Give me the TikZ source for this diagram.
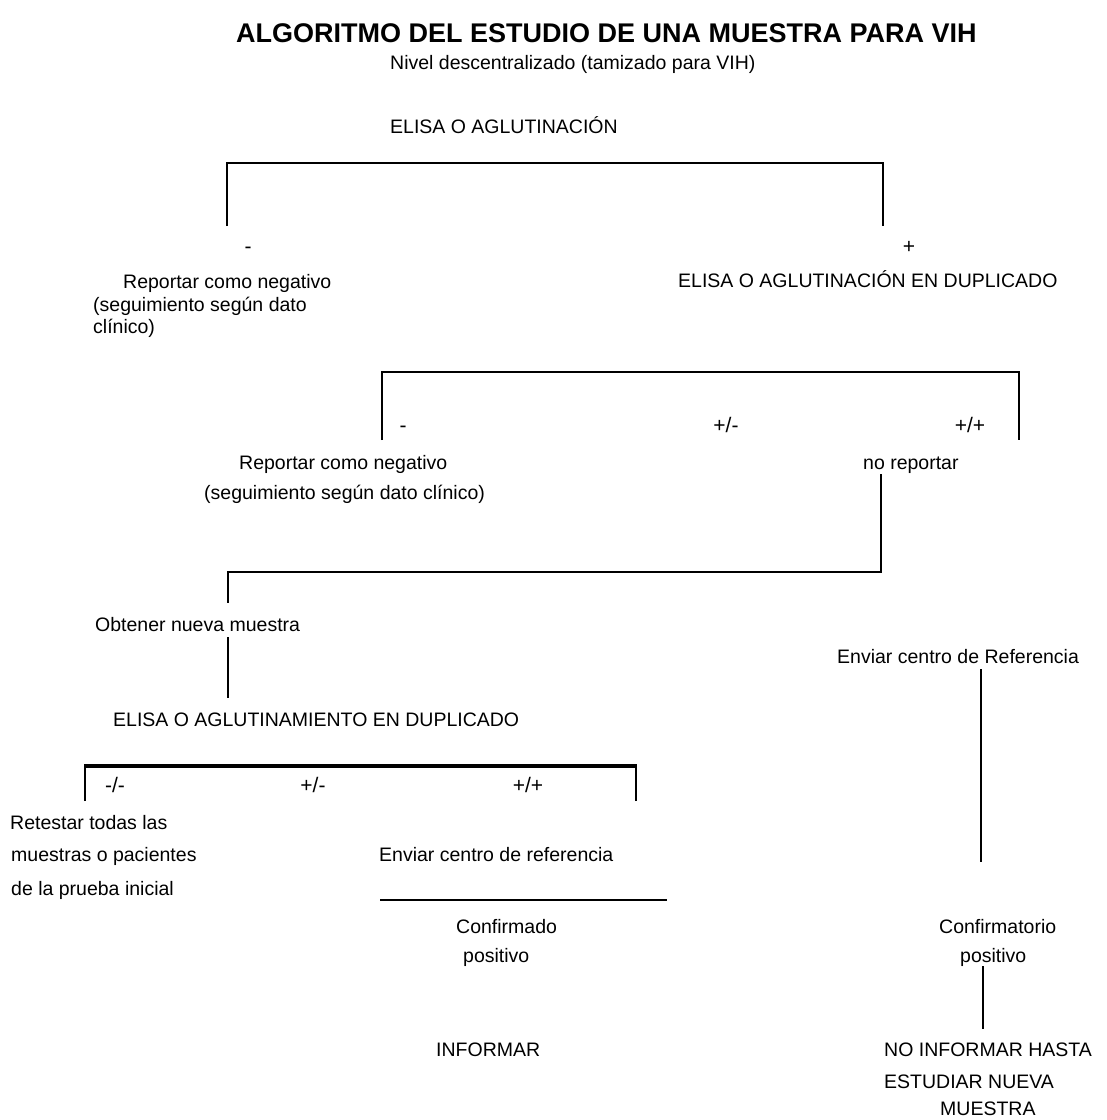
\documentclass[tikz,border=0pt]{standalone}
\usepackage{fontspec}
\setmainfont{Liberation Sans}
\begin{document}
\begin{tikzpicture}[x=1pt,y=-1pt,
  txt/.style={anchor=base west, inner sep=0pt, text=black, font=\fontsize{19.5}{23}\selectfont},
  sign/.style={anchor=base, inner sep=0pt, text=black, font=\fontsize{21}{25}\selectfont},
  ttl/.style={anchor=base west, inner sep=0pt, text=black, font=\fontsize{27}{32}\selectfont\bfseries},
  ln/.style={draw=black, line width=1.8pt},
  thickln/.style={draw=black, line width=3.6pt}]
\useasboundingbox (0,0) rectangle (1107,1120);
\fill[white] (0,0) rectangle (1107,1120);

% texts
\node[ttl] (title) at (236,42) {ALGORITMO DEL ESTUDIO DE UNA MUESTRA PARA VIH};
\node[txt] (sub) at (390,69) {Nivel descentralizado (tamizado para VIH)};
\node[txt] (elisa1) at (390,133) {ELISA O AGLUTINACIÓN};
\node[sign] (neg1) at (248,253) {-};
\node[sign] (pos1) at (909,253) {+};
\node[txt] (rep1a) at (123,288) {Reportar como negativo};
\node[txt] (rep1b) at (93,311) {(seguimiento según dato};
\node[txt] (rep1c) at (93,333) {clínico)};
\node[txt] (elisa2) at (678,287) {ELISA O AGLUTINACIÓN EN DUPLICADO};
\node[sign] (neg2) at (403,432) {-};
\node[sign] (pm2) at (726,432) {+/-};
\node[sign] (pp2) at (970,432) {+/+};
\node[txt] (rep2a) at (239,469) {Reportar como negativo};
\node[txt] (rep2b) at (204,499) {(seguimiento según dato clínico)};
\node[txt] (norep) at (863,469) {no reportar};
\node[txt] (obt) at (95,631) {Obtener nueva muestra};
\node[txt] (envR) at (837,663) {Enviar centro de Referencia};
\node[txt] (elisa3) at (113,726) {ELISA O AGLUTINAMIENTO EN DUPLICADO};
\node[sign] (mm3) at (115,792) {-/-};
\node[sign] (pm3) at (313,792) {+/-};
\node[sign] (pp3) at (528,792) {+/+};
\node[txt] (ret1) at (10,829) {Retestar todas las};
\node[txt] (ret2) at (11,861) {muestras o pacientes};
\node[txt] (ret3) at (11,895) {de la prueba inicial};
\node[txt] (envr) at (379,861) {Enviar centro de referencia};
\node[txt] (conf1) at (456,933) {Confirmado};
\node[txt] (conf2) at (463,962) {positivo};
\node[txt] (inf) at (436,1056) {INFORMAR};
\node[txt] (cfr1) at (939,933) {Confirmatorio};
\node[txt] (cfr2) at (960,962) {positivo};
\node[txt] (noinf1) at (884,1056) {NO INFORMAR HASTA};
\node[txt] (noinf2) at (884,1088) {ESTUDIAR NUEVA};
\node[txt] (noinf3) at (940,1115) {MUESTRA};

% connector points
\coordinate (b1l) at (227,226);
\coordinate (b1r) at (883,226);
\coordinate (b1y) at (0,163);
\coordinate (b2l) at (382,440);
\coordinate (b2r) at (1019,440);
\coordinate (b2y) at (0,372);
\coordinate (nrs) at (881,474);
\coordinate (jn) at (881,572);
\coordinate (obtt) at (228,603);
\coordinate (obtb) at (228,637);
\coordinate (e3t) at (228,698);
\coordinate (envRs) at (981,669);
\coordinate (envRe) at (981,862);
\coordinate (b3l) at (85,801);
\coordinate (b3r) at (636,801);
\coordinate (b3tl) at (85,766);
\coordinate (b3tr) at (636,766);
\coordinate (hl) at (380,900);
\coordinate (hr) at (667,900);
\coordinate (cps) at (983,966);
\coordinate (nit) at (983,1029);

% connectors
\draw[ln] (b1l) -- (b1l |- b1y) -- (b1r |- b1y) -- (b1r);
\draw[ln] (b2l) -- (b2l |- b2y) -- (b2r |- b2y) -- (b2r);
\draw[ln] (nrs) -- (jn) -- (jn -| obtt) -- (obtt);
\draw[ln] (obtb) -- (e3t);
\draw[ln] (envRs) -- (envRe);
\draw[ln] (b3l) -- (b3tl);
\draw[ln] (b3r) -- (b3tr);
\draw[thickln] ([xshift=-0.9pt]b3tl) -- ([xshift=0.9pt]b3tr);
\draw[ln] (hl) -- (hr);
\draw[ln] (cps) -- (nit);
\end{tikzpicture}
\end{document}
